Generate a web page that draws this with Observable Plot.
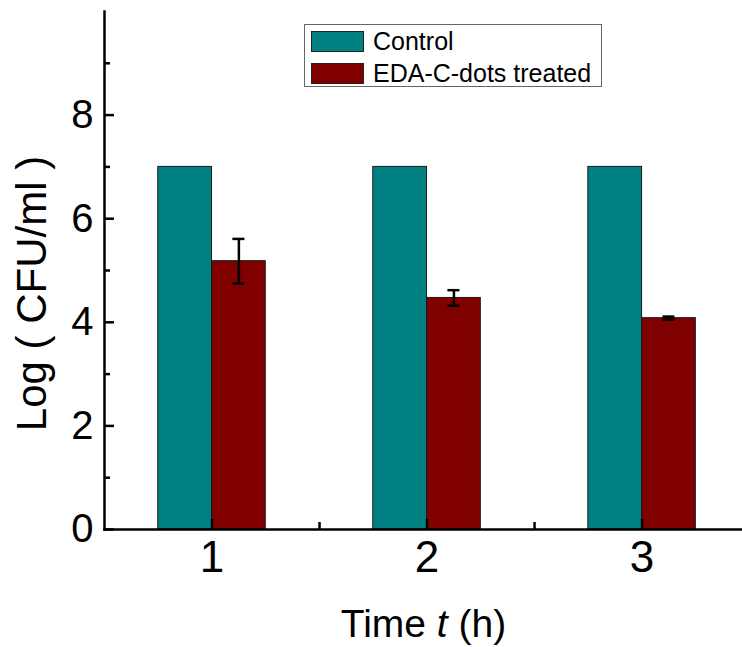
<!DOCTYPE html>
<html><head><meta charset="utf-8">
<script src="https://cdn.jsdelivr.net/npm/d3@7"></script>
<script src="https://cdn.jsdelivr.net/npm/@observablehq/plot@0.6"></script>
<style>
body{margin:0;background:#fff;}
#wrap{position:relative;width:742px;height:647px;font-family:"Liberation Sans",Arial,sans-serif;}
#wrap svg{position:absolute;left:0;top:0;}
.legend{position:absolute;left:304px;top:24px;width:298px;height:63px;border:1px solid #666;box-sizing:border-box;background:#fff;}
.item{position:absolute;left:6px;height:22px;display:flex;align-items:center;}
.sw{width:53px;height:21px;border:1px solid #222;box-sizing:border-box;margin-right:9px;}
.lab{font-size:25px;line-height:22px;color:#000;}
</style></head>
<body><div id="wrap"></div>
<script>
const times = [1, 2, 3];
const seriesNames = ["Control", "EDA-C-dots treated"];
const controlMean = [7.0, 7.0, 7.0];
const treatedMean = [5.18, 4.47, 4.08];
const treatedErr = [0.43, 0.15, 0.03];
const seriesColors = ["#008080", "#800000"];
const yMajor = [0, 2, 4, 6, 8];
const yMinor = [1, 3, 5, 7, 9];
const xMajor = [1, 2, 3];
const xMinor = [1.5, 2.5];
const yTitle = "Log ( CFU/ml )";

const half = 0.25;
const rows = times.flatMap((t, i) => [
  {t, series: seriesNames[0], v: controlMean[i], k: -1},
  {t, series: seriesNames[1], v: treatedMean[i], k: 0}
]);
const errRows = times.map((t, i) => ({t, m: treatedMean[i], e: treatedErr[i]}));
const capW = 0.028;

const font = '"Liberation Sans", Arial, sans-serif';
const plot = Plot.plot({
  width: 742, height: 647,
  marginLeft: 104, marginRight: 0, marginTop: 11, marginBottom: 118,
  style: {fontFamily: font, background: "transparent"},
  x: {type: "linear", domain: [0.5, 3.467]},
  y: {domain: [0, 10]},
  color: {domain: seriesNames, range: seriesColors},
  marks: [
    Plot.rectY(rows, {x1: d => d.t + d.k * half, x2: d => d.t + (d.k + 1) * half, y1: 0, y2: "v", fill: "series", stroke: "#1a1a1a", strokeWidth: 1}),
    Plot.ruleX(errRows, {x: d => d.t + half / 2, y1: d => d.m - d.e, y2: d => d.m + d.e, stroke: "#000", strokeWidth: 2.5}),
    Plot.ruleY(errRows, {y: d => d.m + d.e, x1: d => d.t + half / 2 - capW, x2: d => d.t + half / 2 + capW, stroke: "#000", strokeWidth: 2.5}),
    Plot.ruleY(errRows, {y: d => d.m - d.e, x1: d => d.t + half / 2 - capW, x2: d => d.t + half / 2 + capW, stroke: "#000", strokeWidth: 2.5}),
    Plot.axisY({ticks: yMajor, tickSize: -10, text: null, label: null, strokeWidth: 2.5}),
    Plot.axisY({ticks: yMinor, tickSize: -6, text: null, label: null, strokeWidth: 2.5}),
    Plot.axisY({ticks: yMajor, tickSize: 0, tickPadding: 11, fontSize: 40, label: null, tickFormat: d3.format("d")}),
    Plot.axisX({ticks: xMajor, tickSize: -10, text: null, label: null, strokeWidth: 2.5}),
    Plot.axisX({ticks: xMinor, tickSize: -7, text: null, label: null, strokeWidth: 2.5}),
    Plot.axisX({ticks: xMajor, tickSize: 0, tickPadding: 11, fontSize: 44, tickFormat: d3.format("d"),
      label: "Time t (h)", labelAnchor: "center", labelOffset: 107, labelArrow: "none"}),
    Plot.frame({anchor: "left", stroke: "#000", strokeWidth: 2.5}),
    Plot.frame({anchor: "bottom", stroke: "#000", strokeWidth: 2.5}),
    Plot.text([yTitle], {frameAnchor: "left", textAnchor: "middle", rotate: -90, dx: -72, dy: 23, fontSize: 42, fill: "#000"})
  ]
});

// italic t in x title
const lbl = d3.select(plot).select('g[aria-label="x-axis label"] text');
if (!lbl.empty()) {
  lbl.attr("font-size", 39).text(null);
  lbl.append("tspan").text("Time ");
  lbl.append("tspan").attr("font-style", "italic").text("t");
  lbl.append("tspan").text(" (h)");
}

const wrap = document.getElementById("wrap");
wrap.appendChild(plot);
const leg = document.createElement("div");
leg.className = "legend";
seriesNames.forEach((name, i) => {
  const it = document.createElement("div");
  it.className = "item";
  it.style.top = (5 + i * 32) + "px";
  const sw = document.createElement("div");
  sw.className = "sw";
  sw.style.background = seriesColors[i];
  const lab = document.createElement("span");
  lab.className = "lab";
  lab.textContent = name;
  it.appendChild(sw); it.appendChild(lab);
  leg.appendChild(it);
});
wrap.appendChild(leg);
</script></body></html>
